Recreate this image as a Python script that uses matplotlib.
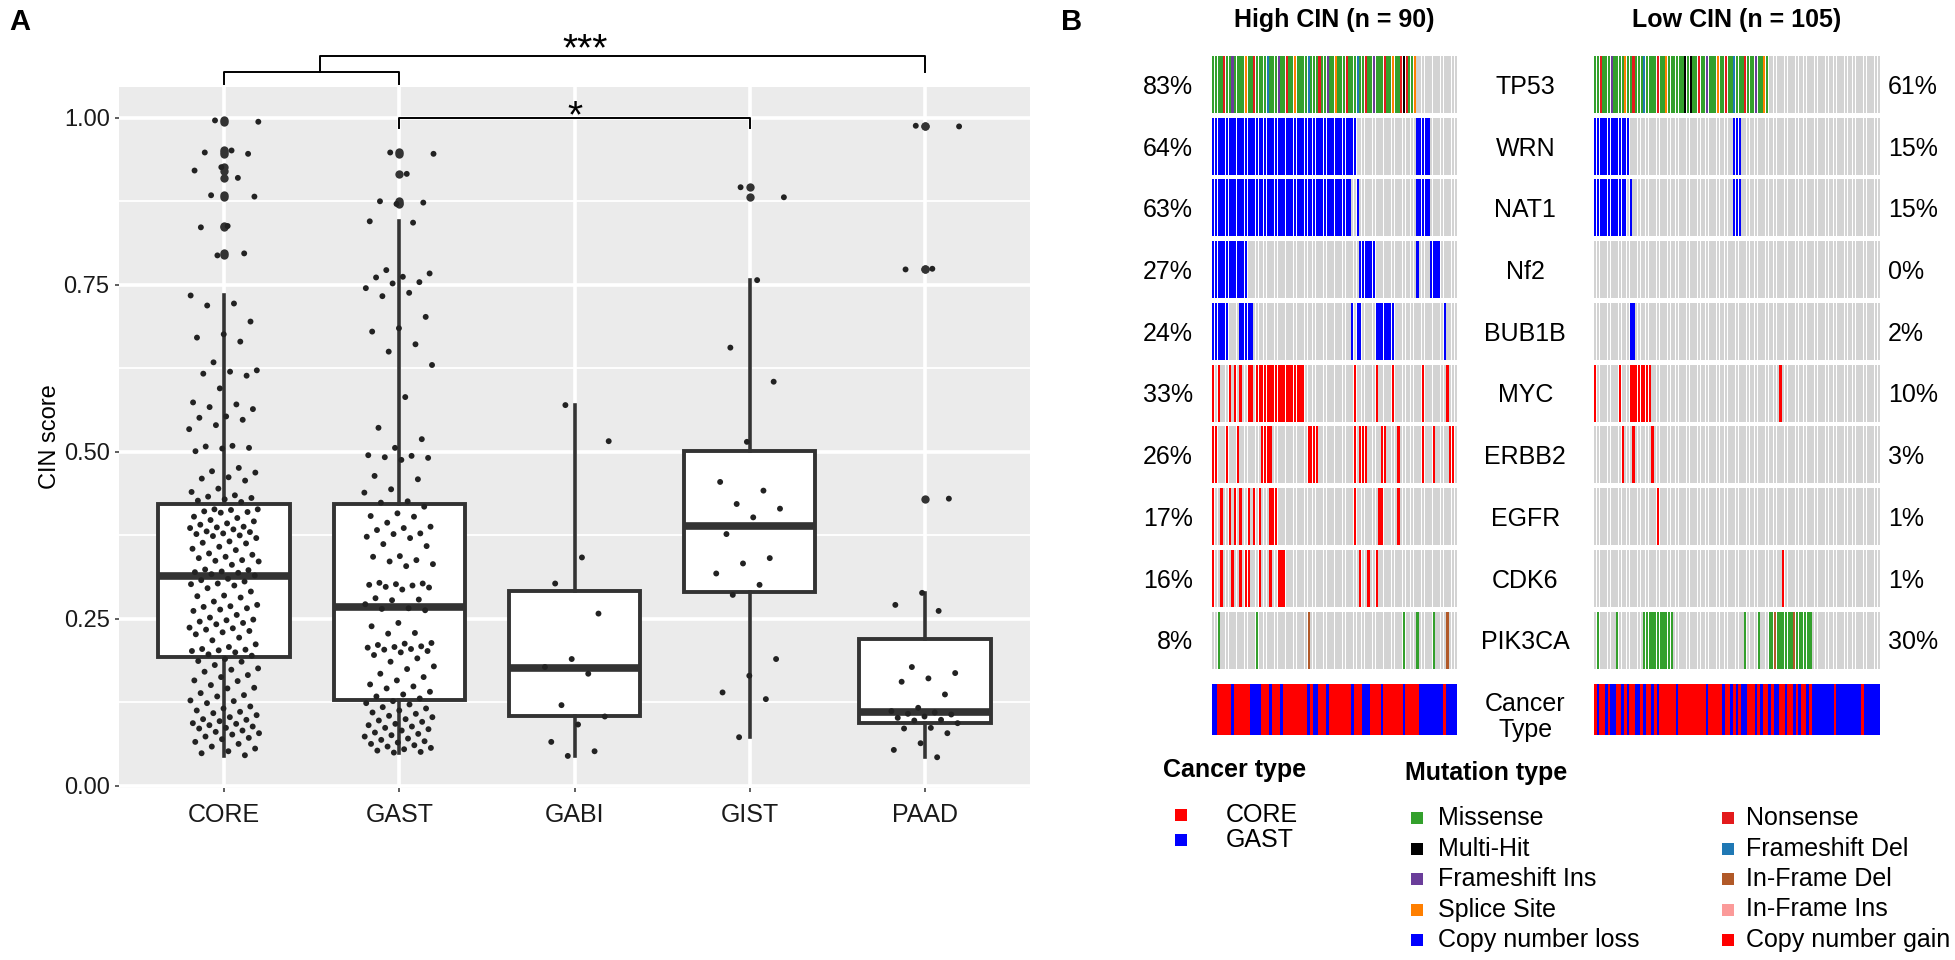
import numpy as np
import matplotlib
matplotlib.use('Agg')
import matplotlib.pyplot as plt
from matplotlib.patches import Rectangle

plt.rcParams['font.family'] = ['Liberation Sans', 'DejaVu Sans']

# ---------------- panel A data ----------------
groups = ['CORE', 'GAST', 'GABI', 'GIST', 'PAAD']
box_q1 = [0.193, 0.128, 0.105, 0.290, 0.094]
box_med = [0.314, 0.268, 0.176, 0.389, 0.110]
box_q3 = [0.422, 0.422, 0.292, 0.501, 0.220]
box_lo = [0.045, 0.050, 0.045, 0.073, 0.043]
box_hi = [0.735, 0.845, 0.570, 0.757, 0.289]

core_pts = [0.996, 0.994, 0.951, 0.948, 0.946, 0.926, 0.921, 0.910, 0.884, 0.882, 0.838, 0.836, 0.797, 0.794,
            0.734, 0.722, 0.719, 0.695, 0.676, 0.671, 0.665, 0.634, 0.622, 0.620, 0.617, 0.614, 0.595, 0.574,
            0.571, 0.567, 0.564, 0.553, 0.551, 0.548, 0.540, 0.534, 0.509, 0.508, 0.506, 0.505, 0.501, 0.476,
            0.471, 0.469, 0.462, 0.460, 0.457, 0.445, 0.440, 0.435, 0.433, 0.431, 0.429, 0.427, 0.425,
            0.414, 0.414, 0.413, 0.411, 0.410, 0.409, 0.403, 0.401, 0.398, 0.396, 0.393, 0.391, 0.388, 0.387,
            0.386, 0.384, 0.381, 0.380, 0.378, 0.377, 0.375, 0.374, 0.371, 0.366, 0.364, 0.363, 0.358, 0.355,
            0.353, 0.348, 0.346, 0.343, 0.341, 0.338, 0.337, 0.336, 0.331, 0.324, 0.323, 0.321, 0.320, 0.319,
            0.317, 0.315,
            0.310, 0.308, 0.306, 0.303, 0.302, 0.300, 0.296, 0.291, 0.285, 0.284, 0.282, 0.276, 0.271, 0.269,
            0.268, 0.266, 0.264, 0.262, 0.256, 0.252, 0.249, 0.248, 0.246, 0.244, 0.242, 0.237, 0.236, 0.234,
            0.232, 0.230, 0.227, 0.222, 0.218, 0.212, 0.208, 0.205, 0.204, 0.203, 0.202, 0.200, 0.197, 0.195,
            0.190, 0.187, 0.186, 0.181, 0.176, 0.174, 0.171, 0.166, 0.163, 0.158, 0.157, 0.151, 0.147, 0.146,
            0.139, 0.136, 0.134, 0.128, 0.127, 0.124, 0.119, 0.116, 0.113, 0.111, 0.109, 0.106, 0.103, 0.100,
            0.099, 0.097, 0.094, 0.093, 0.091, 0.089, 0.087, 0.086, 0.083, 0.081, 0.079, 0.077, 0.074, 0.072,
            0.070, 0.066, 0.063, 0.059, 0.056, 0.052, 0.049, 0.046]
gast_pts = [0.948, 0.946, 0.916, 0.875, 0.873, 0.871,
            0.845, 0.843, 0.772, 0.767, 0.762, 0.761, 0.754, 0.752, 0.745, 0.738, 0.733, 0.702, 0.685, 0.680,
            0.661, 0.650, 0.630, 0.582, 0.536, 0.519, 0.506, 0.495, 0.494, 0.492, 0.491, 0.488, 0.464, 0.459,
            0.444, 0.439, 0.426, 0.424,
            0.418, 0.408, 0.404, 0.403, 0.394, 0.388, 0.386, 0.383, 0.378, 0.377, 0.373, 0.371, 0.362, 0.359,
            0.344, 0.343, 0.338, 0.336, 0.332, 0.329, 0.304, 0.303, 0.302, 0.301, 0.300, 0.298, 0.297, 0.294,
            0.281, 0.279, 0.278, 0.272,
            0.266, 0.265, 0.263, 0.244, 0.239, 0.229, 0.228, 0.214, 0.213, 0.211, 0.209, 0.208, 0.207, 0.205,
            0.204, 0.202, 0.200, 0.196, 0.191, 0.186, 0.179, 0.175, 0.168, 0.163, 0.158, 0.152, 0.149, 0.146,
            0.141, 0.137, 0.134, 0.131,
            0.127, 0.124, 0.122, 0.118, 0.116, 0.113, 0.110, 0.108, 0.105, 0.103, 0.100, 0.098, 0.096, 0.093,
            0.091, 0.089, 0.087, 0.085, 0.083, 0.080, 0.078, 0.076, 0.074, 0.071, 0.069, 0.067, 0.065, 0.063,
            0.061, 0.059, 0.057, 0.055, 0.053, 0.051, 0.050]
gabi_pts = [0.570, 0.516, 0.342, 0.303, 0.258, 0.190, 0.178, 0.168, 0.121, 0.104, 0.092, 0.066, 0.052, 0.045]
gist_pts = [0.896, 0.881, 0.757, 0.656, 0.605, 0.515, 0.455, 0.442, 0.422, 0.415, 0.402, 0.377, 0.341,
            0.333, 0.318, 0.301, 0.286, 0.190, 0.165, 0.140, 0.130, 0.073]
paad_pts = [0.988, 0.987, 0.774, 0.773, 0.430, 0.289, 0.271, 0.262, 0.178, 0.169, 0.161, 0.156, 0.137,
            0.117, 0.112, 0.110, 0.108, 0.107, 0.104, 0.102, 0.099, 0.098, 0.094, 0.087, 0.086, 0.079,
            0.064, 0.054, 0.043]
points = [core_pts, gast_pts, gabi_pts, gist_pts, paad_pts]

# significance brackets: (x from, x to, label)
sig_pairs = [(1, 2, ''), (1.55, 5, '***'), (2, 4, '*')]

# ---------------- panel B data ----------------
genes = ['TP53', 'WRN', 'NAT1', 'Nf2', 'BUB1B', 'MYC', 'ERBB2', 'EGFR', 'CDK6', 'PIK3CA']
pct_high = ['83%', '64%', '63%', '27%', '24%', '33%', '26%', '17%', '16%', '8%']
pct_low = ['61%', '15%', '15%', '0%', '2%', '10%', '3%', '1%', '1%', '30%']

# TP53 per sample (M missense, N nonsense, I fs ins, D fs del, S splice, H multi-hit)
tp53_high = ("MMMMNMMIMM" "MMSMMNMMMM" "DMMMIMMNMM" "SMMMMDMMMN" "MMIMMSMMMN"
             "MMMDMMNMMI" "MMMNMMSMMN" "HNMMS")
tp53_low = ("MMNMMMIMMM" "MSMMNMMMDM" "MMMNMMSMMM" "MMMHMHMMNM" "MIMMMSMMNM"
            "MDMMMNMMMI" "MMSM")

# other genes: code -> sample index spec (L copy loss, G copy gain, M missense, F in-frame del)
high_rows = [
    {'L': '0-52 75-79'},
    {'L': '0-50 53 75-79'},
    {'L': '0-12 54-59 75 80-83'},
    {'L': '0-5 10-14 51 53-54 60-66 85'},
    {'G': '0 2 6 8 10 13 14 16-33 52 60 66 77 86'},
    {'G': '0 1 5 9 18-21 35-38 52 54-56 62 63 68 77 81 87 88'},
    {'G': '0 3 6 8 10 13 15 17 21-23 52 61 62 68'},
    {'G': '0 3 7 10 12 13 17 21 24-26 54 57 60'},
    {'M': '2 16 70 75 81', 'F': '35 86'},
]
low_rows = [
    {'L': '0-12 51-53'},
    {'L': '0-11 13 51-53'},
    {},
    {'L': '13 14'},
    {'G': '0 9 13-20 68'},
    {'G': '10 14 21'},
    {'G': '23'},
    {'G': '69'},
    {'M': '1 8 18-28 55 60 64-65 67-72 74-79', 'F': '66 73'},
]

# cancer type per sample: R = CORE, B = GAST
cancer_high = ("BB" "RRRRR" "B" "RRRRRR" "BBBB" "RRR" "B" "RRR" "B" "RRRRRRRRR" "BRBB" "RRR" "B"
               "RRRRRRRR" "B" "RRR" "BBB" "RRRR" "B" "RRRRRRR" "B" "RRRRR" "BBBBBBBBB" "R" "BBBB")
cancer_low = ("RBRRBRBBRRBRBRRBBRBRRBRB" "RRRRRRBRRRRRRRRRRBRRRRR"
              "BRRBRBRBBRRRBRBRRBRBBRRBRRBRBRRBRB" "BBBBBBBRBBBBBBBBBRBBBBBB")

ct_labels = ['CORE', 'GAST']
mt_left = [('Missense', 'M'), ('Multi-Hit', 'H'), ('Frameshift Ins', 'I'), ('Splice Site', 'S'),
           ('Copy number loss', 'L')]
mt_right = [('Nonsense', 'N'), ('Frameshift Del', 'D'), ('In-Frame Del', 'F'), ('In-Frame Ins', 'P'),
            ('Copy number gain', 'G')]

mut_colors = {'M': '#33A02C', 'H': '#000000', 'I': '#6A3D9A', 'S': '#FF7F00', 'L': '#0000FF',
              'N': '#E31A1C', 'D': '#1F78B4', 'F': '#B15928', 'P': '#FB9A99', 'G': '#FF0000'}
ct_colors = {'R': '#FF0000', 'B': '#0000FF'}
GREY = '#D3D3D3'

W, H = 1955, 960
fig = plt.figure(figsize=(W / 100, H / 100), dpi=100)


def px_axes(x0, y0, x1, y1):
    return fig.add_axes([x0 / W, 1 - y1 / H, (x1 - x0) / W, (y1 - y0) / H])


# ================= panel A =================
ax = px_axes(119, 87, 1030, 788)
ax.set_facecolor('#EBEBEB')
pos = np.arange(1, 6)

stats = []
for i in range(5):
    pts = np.array(points[i])
    fl = pts[(pts > box_hi[i]) | (pts < box_lo[i])]
    stats.append(dict(med=box_med[i], q1=box_q1[i], q3=box_q3[i],
                      whislo=box_lo[i], whishi=box_hi[i], fliers=fl))
ax.bxp(stats, positions=pos, widths=0.75, patch_artist=True, showcaps=False,
       boxprops=dict(facecolor='white', edgecolor='#333333', linewidth=2.8),
       medianprops=dict(color='#333333', linewidth=5.5, solid_capstyle='butt'),
       whiskerprops=dict(color='#333333', linewidth=2.6),
       flierprops=dict(marker='o', markerfacecolor='#333333', markeredgecolor='none', markersize=6),
       zorder=2)

for i in range(5):
    pts = np.array(points[i])
    jit = ((np.arange(len(pts)) * 0.618034 + 0.37) % 1 - 0.5) * 0.4
    ax.scatter(pos[i] + jit, pts, s=18, color='#222222', edgecolors='none', zorder=3)

ax.set_xlim(0.4, 5.6)
ax.set_ylim(-0.003, 1.046)
ax.set_xticks(pos)
ax.set_xticklabels(groups, fontsize=18, color='#1a1a1a')
ax.set_yticks([0, 0.25, 0.5, 0.75, 1.0])
ax.set_yticklabels(['0.00', '0.25', '0.50', '0.75', '1.00'], fontsize=17, color='#1a1a1a')
ax.set_yticks([0.125, 0.375, 0.625, 0.875], minor=True)
ax.tick_params(axis='x', length=2.75, width=1.1, color='#333333', pad=8)
ax.tick_params(axis='y', length=2.75, width=1.1, color='#333333', pad=4)
ax.tick_params(which='minor', length=0)
ax.set_axisbelow(True)
ax.grid(True, which='major', color='white', linewidth=2.6)
ax.grid(True, which='minor', axis='y', color='white', linewidth=1.3)
for s in ax.spines.values():
    s.set_visible(False)

# brackets
ax.plot([1, 1, 2, 2], [1.051, 1.069, 1.069, 1.051], color='black', lw=1.4, clip_on=False)
ax.plot([1.55, 1.55, 5, 5], [1.069, 1.093, 1.093, 1.069], color='black', lw=1.4, clip_on=False)
ax.plot([2, 2, 4, 4], [0.984, 1.0, 1.0, 0.984], color='black', lw=1.4, clip_on=False, zorder=4)
ax.text(3.06, 1.086, sig_pairs[1][2], ha='center', va='baseline', fontsize=28, clip_on=False)
ax.text(3.0, 0.985, sig_pairs[2][2], ha='center', va='baseline', fontsize=28, clip_on=False)

fig.text(50 / W, 1 - 437 / H, 'CIN score', rotation=90, ha='center', va='center', fontsize=17)
fig.text(20 / W, 1 - 22 / H, 'A', ha='center', va='center', fontsize=21, fontweight='bold')
fig.text(1072 / W, 1 - 22 / H, 'B', ha='center', va='center', fontsize=21, fontweight='bold')


# ================= panel B =================
def parse_idx(spec):
    out = []
    for tok in spec.split():
        if '-' in tok:
            a, b = tok.split('-')
            out.extend(range(int(a), int(b) + 1))
        else:
            out.append(int(tok))
    return out


def build_row(n, spec):
    codes = ['.'] * n
    for code, s in spec.items():
        for i in parse_idx(s):
            codes[i] = code
    return codes


ROW_H = 0.924
ax_hi = px_axes(1212, 56, 1457, 735)
ax_lo = px_axes(1594, 56, 1880, 735)

for axb, n, tp53, rows, cancer, title in [
        (ax_hi, 90, tp53_high, high_rows, cancer_high, 'High CIN (n = 90)'),
        (ax_lo, 105, tp53_low, low_rows, cancer_low, 'Low CIN (n = 105)')]:
    all_rows = [list(tp53.ljust(n, '.'))] + [build_row(n, r) for r in rows]
    x = np.arange(n) + 0.5
    for r, codes in enumerate(all_rows):
        cols = [mut_colors.get(c, GREY) for c in codes]
        axb.bar(x, ROW_H, bottom=r, width=0.8, color=cols, linewidth=0)
    axb.bar(x, 0.82, bottom=10.18, width=1.02, color=[ct_colors[c] for c in cancer], linewidth=0)
    axb.set_xlim(0, n)
    axb.set_ylim(11, 0)
    axb.axis('off')
    axb.text(n / 2, -0.58, title, ha='center', va='center', fontsize=18, fontweight='bold')

for r, g in enumerate(genes):
    yc = r + 0.5
    ax_hi.text(-7, yc, pct_high[r], ha='right', va='center', fontsize=18)
    ax_hi.text(115.1, yc, g, ha='center', va='center', fontsize=18)
    ax_lo.text(108, yc, pct_low[r], ha='left', va='center', fontsize=18)
ax_hi.text(115.1, 10.71, 'Cancer\nType', ha='center', va='center', fontsize=18, linespacing=1.1)

# legends
axL = fig.add_axes([0, 0, 1, 1])
axL.set_xlim(0, W)
axL.set_ylim(H, 0)
axL.axis('off')

axL.text(1163, 770, 'Cancer type', ha='left', va='center', fontsize=18, fontweight='bold')
for k, (lab, code) in enumerate(zip(ct_labels, ['R', 'B'])):
    y = 815 + 25 * k
    axL.add_patch(Rectangle((1175, y - 6), 12, 12, color=ct_colors[code], lw=0))
    axL.text(1226, y, lab, ha='left', va='center', fontsize=18)

axL.text(1405, 773, 'Mutation type', ha='left', va='center', fontsize=18, fontweight='bold')
for col_items, kx, tx in [(mt_left, 1411, 1438), (mt_right, 1722, 1746)]:
    for k, (lab, code) in enumerate(col_items):
        y = 818 + 30.5 * k
        axL.add_patch(Rectangle((kx, y - 6), 12, 12, color=mut_colors[code], lw=0))
        axL.text(tx, y, lab, ha='left', va='center', fontsize=18)

fig.savefig('out.png', dpi=100)
